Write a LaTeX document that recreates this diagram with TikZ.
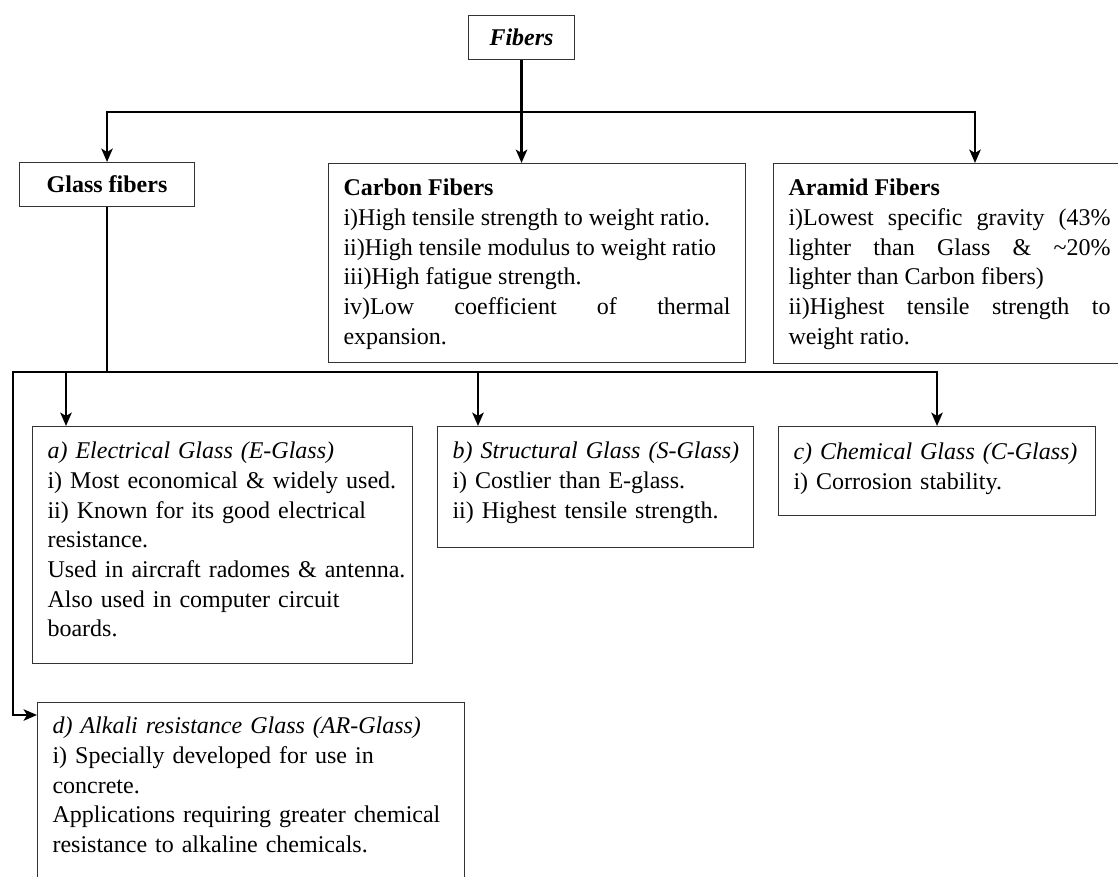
\documentclass[tikz,border=0pt]{standalone}
\usepackage{fontspec}
\setmainfont{Liberation Serif}
\usetikzlibrary{arrows.meta}
\hyphenpenalty=10000
\exhyphenpenalty=10000

\begin{document}
\begin{tikzpicture}[x=0.75pt, y=-0.75pt,
    box/.style={draw=black!80, line width=0.8pt, rectangle, anchor=north west, inner xsep=11.25pt, inner ysep=0pt, font={\fontsize{18pt}{22.3pt}\selectfont}},
    headbox/.style={box, align=center, minimum height=33pt},
    textbox/.style={box, align=left, text height=24pt},
    link/.style={line width=2pt},
    arrow/.style={link, -{Stealth[length=10pt, width=8.5pt, inset=2.5pt]}}]
    \useasboundingbox (0,0) rectangle (1118,876);

    \node (fibers) [headbox, minimum width=79.5pt, font={\fontsize{18pt}{22.3pt}\selectfont\bfseries\itshape}] at (468,15) {Fibers};
    \node (glass) [headbox, minimum width=131.25pt, font={\fontsize{18pt}{22.3pt}\selectfont\bfseries}] at (19,162) {Glass fibers};
    \node (carbon) [textbox, align=justify, text width=290.25pt, text depth=125.25pt] at (328,163) {{\bfseries Carbon Fibers}\par i)High tensile strength to weight ratio.\par ii)High tensile modulus to weight ratio\par iii)High fatigue strength.\par iv)Low coefficient of thermal \linebreak expansion.};
    \node (aramid) [textbox, align=justify, text width=264pt, text depth=126pt] at (773,163) {\rightskip=22.5pt {\bfseries Aramid Fibers}\par \rightskip=22.5pt i)Lowest specific gravity (43\% \linebreak lighter than Glass \& \textasciitilde20\% \linebreak lighter than Carbon fibers)\par \rightskip=22.5pt ii)Highest tensile strength to \linebreak weight ratio.\par};

    \node (eglass) [textbox, text width=262.5pt, text depth=153.75pt] at (32,426) {\mbox{\textit{a) Electrical Glass (E-Glass)}}\\ \mbox{i) Most economical \& widely used.}\\ \mbox{ii) Known for its good electrical}\\ resistance.\\ \mbox{Used in aircraft radomes \& antenna.}\\ \mbox{Also used in computer circuit}\\ boards.};
    \node (sglass) [textbox, text width=214.5pt, text depth=66.75pt] at (437,426) {\mbox{\textit{b) Structural Glass (S-Glass)}}\\ \mbox{i) Costlier than E-glass.}\\ \mbox{ii) Highest tensile strength.}};
    \node (cglass) [textbox, text width=215.25pt, text height=24.75pt, text depth=42pt] at (778,426) {\mbox{\textit{c) Chemical Glass (C-Glass)}}\\ \mbox{i) Corrosion stability.}};
    \node (arglass) [textbox, text width=297.75pt, text height=23.25pt, text depth=150pt] at (37,702) {\mbox{\textit{d) Alkali resistance Glass (AR-Glass)}}\\ \mbox{i) Specially developed for use in}\\ concrete.\\ \mbox{Applications requiring greater chemical}\\ \mbox{resistance to alkaline chemicals.}};

    \coordinate (corner) at (13,372);
    \path (fibers.south |- 0,112) coordinate (split1);
    \path (glass.south |- corner) coordinate (split2);

    \draw[link] (fibers.south) -- (split1);
    \draw[arrow] (split1) -- (split1 |- carbon.north);
    \draw[arrow] (split1) -| (glass.north);
    \draw[arrow] (split1) -| ([xshift=151.5pt]aramid.north west);

    \draw[link] (glass.south) -- (split2);
    \draw[arrow] (split2) -| ([xshift=25.5pt]eglass.north west);
    \draw[arrow] (split2) -| ([xshift=30.75pt]sglass.north west);
    \draw[arrow] (split2) -| (cglass.north);
    \draw[arrow] (split2) -- (corner) |- ([yshift=-9.75pt]arglass.north west);
\end{tikzpicture}
\end{document}
